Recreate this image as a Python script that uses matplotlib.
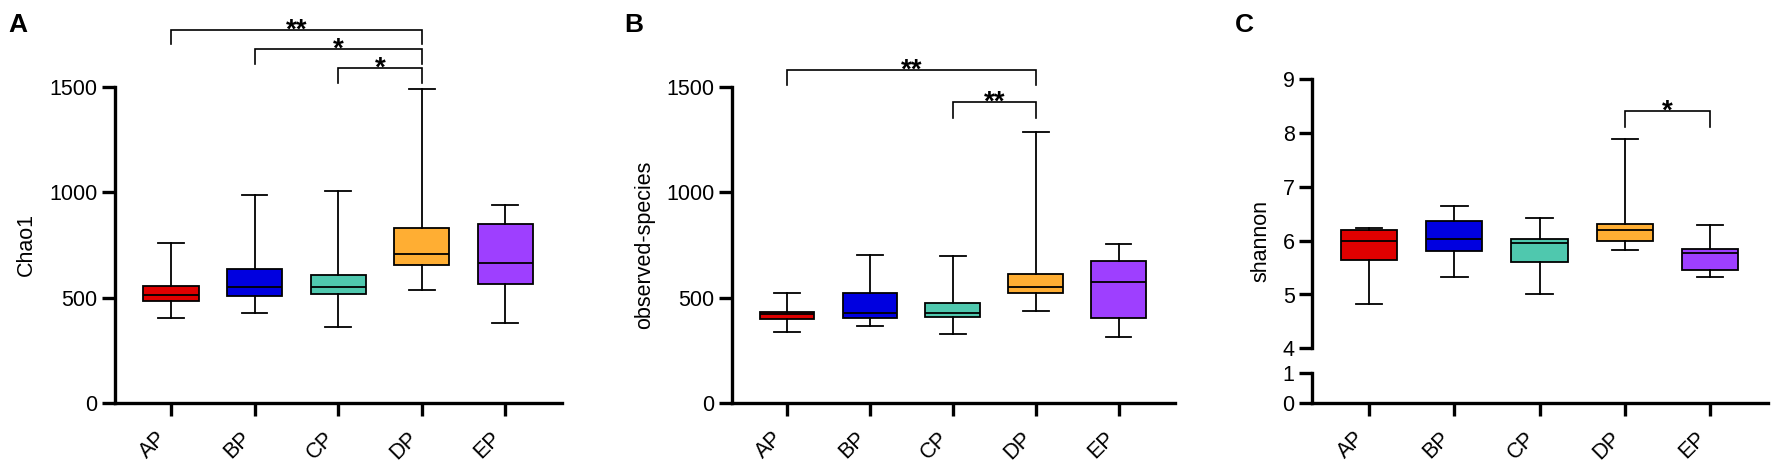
import matplotlib
matplotlib.use('Agg')
import matplotlib.pyplot as plt

plt.rcParams['font.family'] = ['Liberation Sans', 'DejaVu Sans']

groups = ['AP', 'BP', 'CP', 'DP', 'EP']
colors = ['#E00000', '#0000E0', '#4FC8AE', '#FFAE33', '#9E3FFF']

# whisker low, Q1, median, Q3, whisker high
chao1_lo = [406, 426, 362, 538, 382]
chao1_q1 = [485, 510, 516, 657, 564]
chao1_med = [512, 553, 549, 707, 665]
chao1_q3 = [557, 638, 606, 832, 848]
chao1_hi = [758, 988, 1006, 1487, 941]

obs_lo = [339, 364, 328, 435, 315]
obs_q1 = [399, 405, 408, 523, 402]
obs_med = [421, 430, 429, 551, 575]
obs_q3 = [433, 523, 477, 614, 676]
obs_hi = [523, 704, 698, 1284, 753]

shan_lo = [4.82, 5.33, 5.01, 5.82, 5.32]
shan_q1 = [5.64, 5.81, 5.61, 5.99, 5.46]
shan_med = [6.00, 6.04, 5.95, 6.19, 5.77]
shan_q3 = [6.19, 6.37, 6.03, 6.31, 5.85]
shan_hi = [6.24, 6.65, 6.43, 7.89, 6.29]

# (group i, group j, line height, leg length, label)
chao1_sig = [(0, 3, 1768, 68, '**'), (1, 3, 1678, 72, '*'), (2, 3, 1590, 71, '*')]
obs_sig = [(0, 3, 1580, 72, '**'), (2, 3, 1429, 77, '**')]
shan_sig = [(3, 4, 8.42, 0.30, '*')]

LW = 2.4
FS = 15.5


def make_stats(lo, q1, med, q3, hi):
    return [dict(whislo=lo[i], q1=q1[i], med=med[i], q3=q3[i], whishi=hi[i], fliers=[])
            for i in range(len(lo))]


def draw_boxes(ax, stats):
    bp = ax.bxp(stats, positions=range(len(stats)), widths=0.66, patch_artist=True,
                showfliers=False, manage_ticks=False,
                boxprops=dict(linewidth=1.3, edgecolor='black'),
                medianprops=dict(color='black', linewidth=1.3),
                whiskerprops=dict(color='black', linewidth=1.3),
                capprops=dict(color='black', linewidth=1.3), capwidths=0.31)
    for patch, c in zip(bp['boxes'], colors):
        patch.set_facecolor(c)


def draw_sig(ax, sigs):
    for i, j, h, leg, lab in sigs:
        ax.plot([i, i, j, j], [h - leg, h, h, h - leg], color='black', lw=1.2,
                clip_on=False, solid_joinstyle='miter')
        ax.annotate(lab, xy=((i + j) / 2, h), xytext=(0, -5.5), textcoords='offset points',
                    ha='center', va='baseline', fontsize=20, fontweight='bold',
                    annotation_clip=False)


def style_axis(ax):
    for s in ['top', 'right']:
        ax.spines[s].set_visible(False)
    for s in ['left', 'bottom']:
        ax.spines[s].set_linewidth(LW)
    ax.tick_params(width=LW, length=9.5, labelsize=FS, pad=3)
    ax.set_xlim(-0.67, 4.68)


def xlabels(ax):
    ax.set_xticks(range(len(groups)))
    ax.set_xticklabels(groups, rotation=45, ha='right', rotation_mode='default')
    ax.tick_params(axis='x', pad=8)


fig = plt.figure(figsize=(17.72, 4.69), dpi=100)
H = 469.0
W = 1772.0

def rect(x0, x1, ytop, ybot):
    return [x0 / W, 1 - ybot / H, (x1 - x0) / W, (ybot - ytop) / H]

# Panel A
axA = fig.add_axes(rect(115, 562, 86.7, 403.3))
draw_boxes(axA, make_stats(chao1_lo, chao1_q1, chao1_med, chao1_q3, chao1_hi))
style_axis(axA)
axA.set_ylim(0, 1500)
axA.set_yticks([0, 500, 1000, 1500])
xlabels(axA)
axA.set_ylabel('Chao1', fontsize=FS)
axA.yaxis.set_label_coords(-0.174, 0.5)
draw_sig(axA, chao1_sig)

# Panel B
axB = fig.add_axes(rect(731.5, 1175, 86.7, 403.3))
draw_boxes(axB, make_stats(obs_lo, obs_q1, obs_med, obs_q3, obs_hi))
style_axis(axB)
axB.set_ylim(0, 1500)
axB.set_yticks([0, 500, 1000, 1500])
xlabels(axB)
axB.set_ylabel('observed-species', fontsize=FS)
axB.yaxis.set_label_coords(-0.172, 0.5)
draw_sig(axB, obs_sig)

# Panel C with broken y axis
axC = fig.add_axes(rect(1312, 1768, 79.3, 348.3))
axC0 = fig.add_axes(rect(1312, 1768, 373.3, 403.3))
draw_boxes(axC, make_stats(shan_lo, shan_q1, shan_med, shan_q3, shan_hi))
style_axis(axC)
style_axis(axC0)
axC.set_ylim(4, 9)
axC.set_yticks([4, 5, 6, 7, 8, 9])
axC.spines['bottom'].set_visible(False)
axC.tick_params(axis='x', bottom=False, labelbottom=False)
axC0.set_ylim(0, 1)
axC0.set_yticks([0, 1])
xlabels(axC0)
axC.set_ylabel('shannon', fontsize=FS)
axC.yaxis.set_label_coords(-0.09, 0.40)
draw_sig(axC, shan_sig)

for lab, x in [('A', 8), ('B', 624), ('C', 1235)]:
    fig.text(x / W, 1 - 32 / H, lab, fontsize=19, fontweight='bold', ha='left', va='baseline')

fig.savefig('out.png', dpi=100)
